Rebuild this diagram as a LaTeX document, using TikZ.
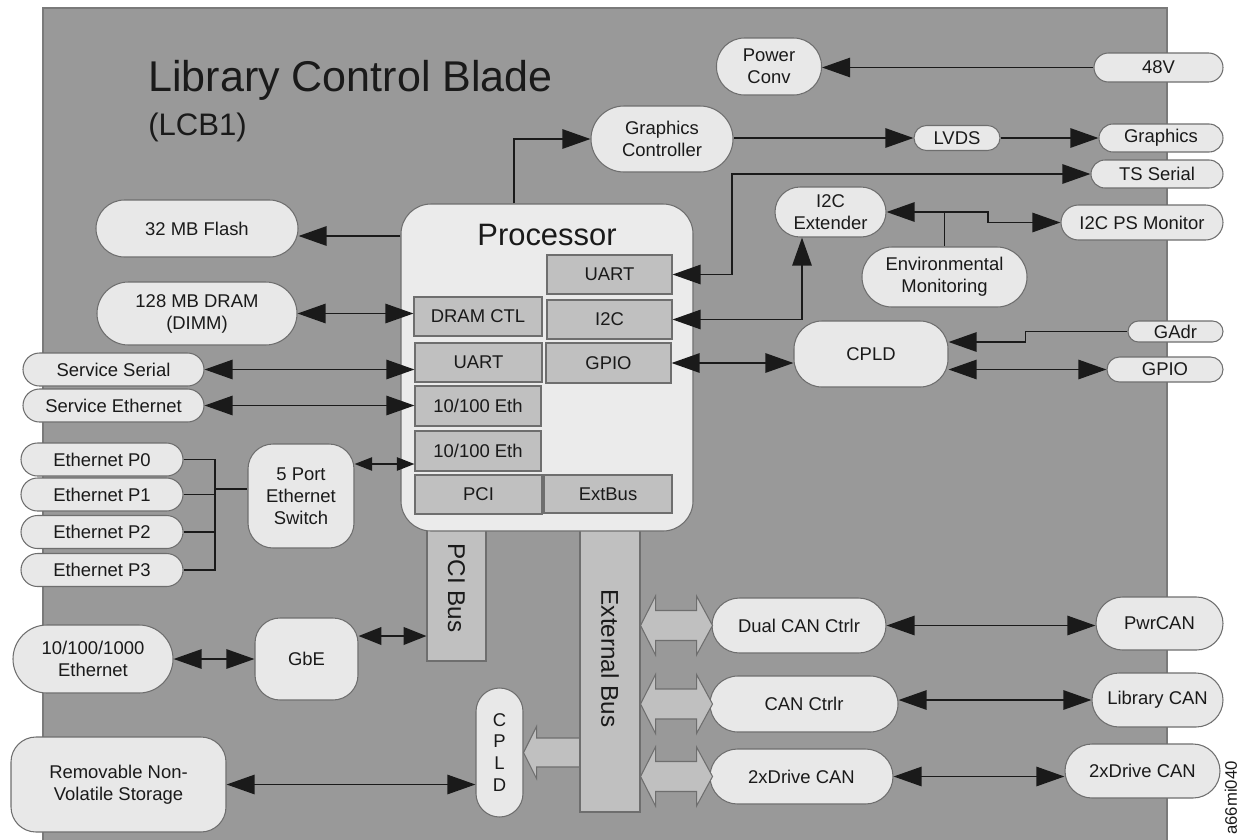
\documentclass[tikz,border=0pt]{standalone}
\usepackage{fontspec}
\setmainfont{Liberation Sans}
\usepackage{graphicx}
\usetikzlibrary{arrows.meta, positioning, calc}

\definecolor{panel}{HTML}{999999}
\definecolor{panelrim}{HTML}{7A7A7A}
\definecolor{boxfill}{HTML}{E8E8E8}
\definecolor{procfill}{HTML}{EBEBEB}
\definecolor{subfill}{HTML}{C0C0C0}
\definecolor{rim}{HTML}{6E6E6E}
\definecolor{ink}{HTML}{1A1A1A}

\begin{document}
\begin{tikzpicture}[
    x=0.02cm, y=-0.02cm,
    >={Triangle[length=16pt, width=11pt]},
    txt/.style={text=ink, font=\fontsize{10.5}{12.5}\selectfont, align=center, inner sep=0pt},
    wh/.style 2 args={minimum width=#1*0.02cm, minimum height=#2*0.02cm},
    pill/.style={txt, draw=rim, fill=boxfill, line width=0.6pt, rounded corners=#1*0.02cm},
    sub/.style={txt, draw=rim, fill=subfill, line width=0.6pt},
    bus/.style={txt, draw=rim, fill=subfill, line width=0.6pt, font=\fontsize{13.8}{16}\selectfont},
    wire/.style={draw=ink, line width=1.1pt},
    arr/.style={wire, ->},
    dbl/.style={wire, <->},
    mdbl/.style={wire, {Triangle[length=13pt, width=10pt]}-{Triangle[length=13pt, width=10pt]}},
    sdbl/.style={wire, {Triangle[length=10pt, width=7.5pt]}-{Triangle[length=10pt, width=7.5pt]}},
    fat/.style={draw=rim, fill=subfill, line width=0.6pt}
]
    \useasboundingbox (0,0) rectangle (1248,839);

    % --- Blade ---
    \draw[draw=panelrim, fill=panel, line width=0.8pt] (43,8) rectangle (1167,850);
    \node[anchor=base west, text=ink, inner sep=0pt, font=\fontsize{24.5}{28}\selectfont]
        (title) at (148,91) {Library Control Blade};
    \node[anchor=base west, text=ink, inner sep=0pt, font=\fontsize{17.7}{20}\selectfont]
        (lcb) at (148,135) {(LCB1)};

    % --- Buses (tucked under the processor) ---
    \node[bus, wh={59}{146}] (pcibus) at (456.5,588)   {\rotatebox{-90}{PCI Bus}};
    \node[bus, wh={60}{307}] (xbus)   at (610,658.5)   {\rotatebox{-90}{External Bus}};

    % --- Processor ---
    \node[pill=30, fill=procfill, wh={292}{327}] (proc) at (547,367.5) {};
    \node[txt, anchor=base, font=\fontsize{17.6}{20}\selectfont] (proctitle) at (547,245) {Processor};

    \node[sub, wh={125}{39}] (uartb)   at (609.5,274.5) {UART};
    \node[sub, wh={128}{39}] (dramctl) at (478,316.5)   {DRAM CTL};
    \node[sub, wh={125}{39}] (i2c)     at (609.5,319.5) {I2C};
    \node[sub, wh={127}{39}] (uarta)   at (478.5,362.5) {UART};
    \node[sub, wh={125}{40}] (gpioa)   at (608.5,363)   {GPIO};
    \node[sub, wh={126}{40}] (etha)    at (478,406)     {10/100 Eth};
    \node[sub, wh={126}{40}] (ethb)    at (478,451)     {10/100 Eth};
    \node[sub, wh={127}{39}] (pci)     at (478.5,494.5) {PCI};
    \node[sub, wh={128}{38}] (extbus)  at (608,494)     {ExtBus};

    % --- Top right ---
    \node[pill=28,   wh={105}{57}] (pconv)    at (769,66.5)    {Power\\Conv};
    \node[pill=14.5, wh={129}{29}] (v48)      at (1158.5,67.5) {48V};
    \node[pill=33,   wh={142}{66}] (gfx)      at (662,139)     {Graphics\\Controller};
    \node[pill=12.5, wh={86}{25}]  (lvds)     at (957,138)     {LVDS};
    \node[pill=14,   wh={124}{28}] (graphics) at (1161,138)    {Graphics};
    \node[pill=14,   wh={132}{28}] (tsser)    at (1157,174)    {TS Serial};
    \node[pill=25,   wh={111}{50}] (i2cext)   at (830.5,212)   {I2C\\Extender};
    \node[pill=17.5, wh={162}{35}] (psmon)    at (1142,222.5)  {I2C PS Monitor};
    \node[pill=30,   wh={165}{60}] (env)      at (944.5,277)   {Environmental\\Monitoring};
    \node[pill=28,   wh={154}{66}] (cpld)     at (871,354)     {CPLD};
    \node[pill=10.5, wh={95}{21}]  (gadr)     at (1175.5,331.5) {GAdr};
    \node[pill=12.5, wh={116}{25}] (gpiob)    at (1165,369.5)  {GPIO};

    % --- Left side ---
    \node[pill=28.5, wh={202}{57}] (flash)   at (197,228.5)   {32 MB Flash};
    \node[pill=31.5, wh={200}{63}] (dram)    at (197,313.5)   {128 MB DRAM\\(DIMM)};
    \node[pill=16.5, wh={181}{33}] (sserial) at (113.5,369.5) {Service Serial};
    \node[pill=16.5, wh={181}{33}] (seth)    at (113.5,405.5) {Service Ethernet};
    \node[pill=16.5, wh={162}{33}] (ep0)     at (102,459.5)   {Ethernet P0};
    \node[pill=16.5, wh={162}{33}] (ep1)     at (102,494.5)   {Ethernet P1};
    \node[pill=16.5, wh={162}{33}] (ep2)     at (102,532)     {Ethernet P2};
    \node[pill=16.5, wh={162}{33}] (ep3)     at (102,570)     {Ethernet P3};
    \node[pill=25,   wh={106}{104}] (switch) at (301,496)     {5 Port\\Ethernet\\Switch};
    \node[pill=34,   wh={160}{68}] (ethg)    at (93,659)      {10/100/1000\\Ethernet};
    \node[pill=25,   wh={103}{82}] (gbe)     at (306.5,659)   {GbE};
    \node[pill=25,   wh={215}{95}] (storage) at (118.5,784.5) {Removable Non-\\Volatile Storage};
    \node[pill=23.5, wh={47}{129}] (cpldv)   at (499.5,752.5) {C\\P\\L\\D};

    % --- CAN ---
    \node[pill=27.5, wh={174}{55}] (dcan)   at (799,625.5)    {Dual CAN Ctrlr};
    \node[pill=28,   wh={188}{56}] (ccan)   at (804,704)      {CAN Ctrlr};
    \node[pill=27.5, wh={183}{55}] (dcanl)  at (801.5,776.5)  {2xDrive CAN};
    \node[pill=26.5, wh={127}{53}] (pwrcan) at (1159.5,623.5) {PwrCAN};
    \node[pill=27,   wh={131}{54}] (libcan) at (1157.5,700)   {Library CAN};
    \node[pill=27,   wh={155}{54}] (drvcan) at (1142.5,771)   {2xDrive CAN};

    \node[rotate=90, anchor=west, text=ink, inner sep=0pt, font=\fontsize{9.5}{11}\selectfont]
        (figid) at (1231,835) {a66mi040};

    % --- Connectors ---
    \draw[arr] (proc.west |- 0,236) -- (flash.east |- 0,236);
    \draw[dbl] (dram.east) -- (dram.east -| dramctl.west);
    \draw[dbl] (sserial.east) -- (sserial.east -| uarta.west);
    \draw[dbl] (seth.east) -- (seth.east -| etha.west);
    \draw[sdbl] (switch.east |- 0,464) -- (ethb.west |- 0,464);

    \coordinate (ejoin) at (215,489);
    \draw[wire] (ep0.east) -| (ejoin |- ep3.east) -- (ep3.east);
    \draw[wire] (ep1.east) -- (ep1.east -| ejoin);
    \draw[wire] (ep2.east) -- (ep2.east -| ejoin);
    \draw[wire] (ejoin) -- (ejoin -| switch.west);

    \draw[dbl] (ethg) -- (gbe);
    \draw[mdbl] (gbe.east |- 0,636) -- (pcibus.west |- 0,636);
    \draw[dbl] (storage.east) -- (storage.east -| cpldv.west);

    \draw[arr] (proc.north -| 514,0) |- (gfx.west);
    \draw[arr] (gfx.east |- lvds.west) -- (lvds.west);
    \draw[arr] (lvds) -- (graphics);
    \draw[arr] (v48.west) -- (v48.west -| pconv.east);
    \draw[dbl] (uartb.east) -- ++(59,0) |- (tsser.west);
    \draw[dbl] (i2c.east) -| (i2cext.south -| 802,0);
    \draw[dbl] (i2cext.east) -- ++(101,0) |- (psmon.west);
    \draw[wire] (env.north) -- (env.north |- i2cext.east);
    \draw[dbl] (gpioa.east) -- (gpioa.east -| cpld.west);
    \draw[arr] (gadr.west) -- ++(-102,0) |- (cpld.east |- 0,342);
    \draw[dbl] (gpiob.west -| cpld.east) -- (gpiob.west);

    \draw[dbl] (dcan.east) -- (dcan.east -| pwrcan.west);
    \draw[dbl] (libcan.west -| ccan.east) -- (libcan.west);
    \draw[dbl] (dcanl.east) -- (dcanl.east -| drvcan.west);

    % --- Bus arrows ---
    \foreach \can in {dcan, ccan, dcanl}
        \draw[fat] (xbus.east |- \can) -- ++(15,-29.5) -- ++(0,14.5) -- ++(41,0)
            -- ++(0,-14.5) -- ++(16,29.5) -- ++(-16,29.5) -- ++(0,-14.5)
            -- ++(-41,0) -- ++(0,14.5) -- cycle;
    \draw[fat] (cpldv.east) -- ++(13,-26) -- ++(0,11.5) -- ++(43,0)
        -- ++(0,29) -- ++(-43,0) -- ++(0,11.5) -- cycle;
\end{tikzpicture}
\end{document}
